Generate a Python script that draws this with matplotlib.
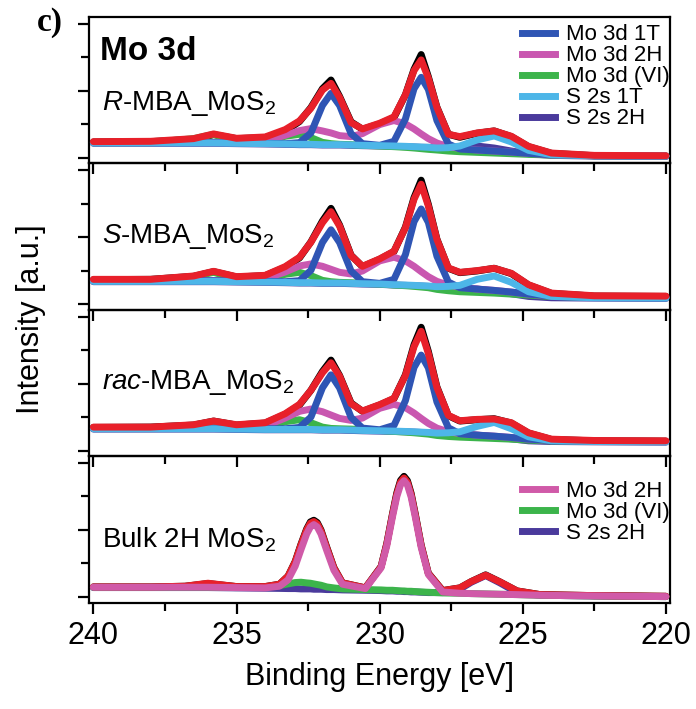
import matplotlib
matplotlib.use('Agg')
import matplotlib.pyplot as plt
from matplotlib.ticker import MultipleLocator
from matplotlib.lines import Line2D

plt.rcParams['font.family'] = ['Liberation Sans', 'DejaVu Sans']
plt.rcParams['mathtext.fontset'] = 'custom'
plt.rcParams['mathtext.rm'] = 'Liberation Sans'
plt.rcParams['mathtext.it'] = 'Liberation Sans:italic'

# binding energy grid (eV) shared by the three MBA samples
energy = [240, 238, 236.5, 235.8, 235.0, 234.0, 233.3, 232.8, 232.4, 232.0,
          231.7, 231.4, 231.0, 230.6, 230.0, 229.5, 229.1, 228.8, 228.55, 228.3,
          228.0, 227.6, 227.2, 226.6, 226.0, 225.4, 224.8, 224.0, 222.5, 220]

# R-MBA_MoS2
r_data = [0.47, 0.48, 0.55, 0.69, 0.57, 0.60, 0.80, 1.08, 1.50, 2.06,
          2.32, 1.83, 1.07, 0.85, 1.01, 1.20, 1.88, 2.64, 3.08, 2.42,
          1.51, 0.70, 0.61, 0.73, 0.80, 0.63, 0.33, 0.13, 0.06, 0.05]
r_fit = [0.48, 0.49, 0.57, 0.71, 0.58, 0.62, 0.84, 1.10, 1.48, 2.02,
         2.22, 1.80, 1.05, 0.86, 1.03, 1.22, 1.88, 2.60, 2.92, 2.38,
         1.50, 0.70, 0.63, 0.74, 0.80, 0.64, 0.34, 0.14, 0.07, 0.06]
r_1t = [0.45, 0.45, 0.45, 0.45, 0.44, 0.43, 0.42, 0.45, 0.74, 1.56,
        1.92, 1.56, 0.72, 0.42, 0.37, 0.49, 1.16, 2.06, 2.40, 2.04,
        1.11, 0.41, 0.26, 0.23, 0.20, 0.17, 0.13, 0.09, 0.06, 0.05]
r_2h = [0.45, 0.45, 0.45, 0.45, 0.44, 0.49, 0.67, 0.81, 0.87, 0.80,
        0.74, 0.66, 0.63, 0.72, 0.99, 1.11, 1.01, 0.86, 0.71, 0.57,
        0.44, 0.33, 0.28, 0.23, 0.20, 0.17, 0.13, 0.09, 0.06, 0.05]
r_vi = [0.45, 0.45, 0.57, 0.70, 0.49, 0.46, 0.64, 0.70, 0.60, 0.46,
        0.42, 0.40, 0.39, 0.37, 0.35, 0.33, 0.31, 0.29, 0.27, 0.25,
        0.23, 0.20, 0.18, 0.16, 0.14, 0.12, 0.10, 0.08, 0.06, 0.05]
r_s1t = [0.44, 0.44, 0.44, 0.44, 0.43, 0.42, 0.41, 0.40, 0.40, 0.39,
         0.39, 0.39, 0.38, 0.37, 0.36, 0.35, 0.34, 0.33, 0.32, 0.31,
         0.29, 0.30, 0.35, 0.53, 0.65, 0.47, 0.22, 0.09, 0.06, 0.05]
r_s2h = [0.43, 0.43, 0.43, 0.43, 0.42, 0.41, 0.40, 0.39, 0.39, 0.38,
         0.38, 0.38, 0.37, 0.36, 0.35, 0.34, 0.33, 0.32, 0.31, 0.31,
         0.30, 0.31, 0.33, 0.35, 0.29, 0.20, 0.12, 0.07, 0.05, 0.04]

# S-MBA_MoS2
s_data = [0.73, 0.74, 0.83, 0.97, 0.81, 0.85, 1.10, 1.38, 1.86, 2.48,
          2.86, 2.36, 1.46, 1.12, 1.34, 1.57, 2.30, 3.18, 3.70, 2.98,
          1.94, 1.07, 0.94, 0.99, 1.07, 0.91, 0.57, 0.32, 0.24, 0.23]
s_fit = [0.74, 0.74, 0.84, 0.98, 0.82, 0.86, 1.12, 1.40, 1.85, 2.43,
         2.76, 2.33, 1.45, 1.13, 1.35, 1.58, 2.28, 3.13, 3.58, 2.93,
         1.93, 1.08, 0.95, 1.00, 1.07, 0.92, 0.58, 0.33, 0.25, 0.24]
s_1t = [0.70, 0.70, 0.70, 0.70, 0.69, 0.68, 0.67, 0.70, 1.01, 1.84,
        2.22, 1.84, 0.99, 0.67, 0.62, 0.74, 1.48, 2.46, 2.84, 2.44,
        1.43, 0.66, 0.49, 0.45, 0.41, 0.36, 0.30, 0.24, 0.21, 0.20]
s_2h = [0.70, 0.70, 0.70, 0.70, 0.69, 0.76, 0.96, 1.14, 1.20, 1.13,
        1.04, 0.95, 0.90, 0.99, 1.29, 1.40, 1.29, 1.13, 0.97, 0.82,
        0.68, 0.57, 0.51, 0.45, 0.41, 0.36, 0.30, 0.24, 0.21, 0.20]
s_vi = [0.70, 0.70, 0.82, 0.95, 0.74, 0.71, 0.89, 0.95, 0.85, 0.71,
        0.67, 0.65, 0.64, 0.62, 0.60, 0.57, 0.55, 0.53, 0.51, 0.49,
        0.44, 0.40, 0.37, 0.35, 0.33, 0.30, 0.27, 0.23, 0.21, 0.20]
s_s1t = [0.68, 0.68, 0.68, 0.68, 0.67, 0.66, 0.65, 0.64, 0.64, 0.63,
         0.63, 0.63, 0.62, 0.61, 0.60, 0.58, 0.57, 0.56, 0.55, 0.54,
         0.52, 0.53, 0.56, 0.74, 0.84, 0.65, 0.37, 0.23, 0.19, 0.18]
s_s2h = [0.67, 0.67, 0.67, 0.67, 0.66, 0.65, 0.64, 0.63, 0.63, 0.62,
         0.62, 0.62, 0.61, 0.60, 0.59, 0.57, 0.56, 0.55, 0.54, 0.53,
         0.50, 0.47, 0.46, 0.45, 0.39, 0.31, 0.23, 0.19, 0.18, 0.17]

# rac-MBA_MoS2
rac_data = [0.69, 0.70, 0.76, 0.88, 0.76, 0.82, 1.08, 1.36, 1.80, 2.36,
            2.70, 2.24, 1.42, 1.17, 1.36, 1.55, 2.26, 3.16, 3.68, 2.96,
            1.90, 1.04, 0.88, 0.92, 0.95, 0.82, 0.52, 0.33, 0.29, 0.28]
rac_fit = [0.70, 0.70, 0.77, 0.88, 0.77, 0.83, 1.10, 1.38, 1.80, 2.32,
           2.62, 2.22, 1.40, 1.18, 1.37, 1.56, 2.24, 3.10, 3.56, 2.90,
           1.88, 1.05, 0.89, 0.93, 0.94, 0.83, 0.53, 0.34, 0.30, 0.29]
rac_1t = [0.67, 0.67, 0.67, 0.67, 0.66, 0.65, 0.65, 0.69, 1.00, 1.87,
          2.26, 1.87, 0.99, 0.67, 0.62, 0.75, 1.49, 2.48, 2.85, 2.47,
          1.45, 0.68, 0.50, 0.46, 0.43, 0.39, 0.34, 0.30, 0.28, 0.27]
rac_2h = [0.67, 0.67, 0.67, 0.67, 0.66, 0.73, 0.97, 1.17, 1.24, 1.16,
          1.06, 0.96, 0.90, 0.97, 1.26, 1.38, 1.28, 1.12, 0.96, 0.81,
          0.67, 0.56, 0.51, 0.46, 0.43, 0.39, 0.34, 0.30, 0.28, 0.27]
rac_vi = [0.67, 0.67, 0.74, 0.84, 0.70, 0.68, 0.86, 0.92, 0.83, 0.70,
          0.66, 0.65, 0.64, 0.62, 0.60, 0.57, 0.55, 0.53, 0.51, 0.49,
          0.45, 0.42, 0.40, 0.38, 0.36, 0.34, 0.31, 0.29, 0.28, 0.27]
rac_s1t = [0.65, 0.65, 0.65, 0.65, 0.64, 0.63, 0.63, 0.63, 0.63, 0.62,
           0.62, 0.62, 0.61, 0.60, 0.59, 0.58, 0.57, 0.56, 0.55, 0.54,
           0.52, 0.53, 0.56, 0.72, 0.84, 0.65, 0.41, 0.29, 0.27, 0.26]
rac_s2h = [0.64, 0.64, 0.64, 0.64, 0.63, 0.62, 0.62, 0.62, 0.62, 0.61,
           0.61, 0.61, 0.60, 0.59, 0.58, 0.57, 0.56, 0.55, 0.54, 0.53,
           0.50, 0.48, 0.47, 0.46, 0.41, 0.35, 0.29, 0.27, 0.26, 0.25]

# bulk 2H MoS2 has its own, finer grid around the two sharp peaks
energy_bulk = [240, 238, 236.8, 236.0, 235.0, 234.0, 233.5, 233.2, 232.95, 232.75,
               232.55, 232.42, 232.3, 232.18, 232.05, 231.85, 231.6, 231.3, 230.5, 229.95,
               229.75, 229.55, 229.4, 229.27, 229.15, 229.03, 228.9, 228.75, 228.55, 228.3,
               227.8, 227.2, 226.8, 226.3, 225.8, 225.2, 224.4, 222.5, 220]
bulk_data = [0.30, 0.30, 0.32, 0.40, 0.31, 0.31, 0.38, 0.62, 1.06, 1.57,
             2.03, 2.24, 2.29, 2.22, 2.00, 1.49, 0.88, 0.42, 0.27, 0.91,
             1.60, 2.49, 3.11, 3.48, 3.60, 3.47, 3.09, 2.45, 1.55, 0.71,
             0.19, 0.27, 0.46, 0.66, 0.45, 0.18, 0.07, 0.04, 0.02]
bulk_fit = [0.30, 0.30, 0.32, 0.41, 0.31, 0.31, 0.38, 0.62, 1.05, 1.55,
            2.00, 2.20, 2.25, 2.18, 1.97, 1.47, 0.87, 0.42, 0.27, 0.90,
            1.58, 2.46, 3.07, 3.43, 3.55, 3.42, 3.05, 2.42, 1.53, 0.70,
            0.19, 0.27, 0.46, 0.65, 0.45, 0.18, 0.07, 0.04, 0.02]
bulk_2h = [0.29, 0.29, 0.29, 0.29, 0.28, 0.27, 0.32, 0.51, 0.92, 1.41,
           1.88, 2.09, 2.16, 2.09, 1.88, 1.39, 0.80, 0.38, 0.25, 0.87,
           1.53, 2.40, 3.00, 3.35, 3.47, 3.34, 2.98, 2.36, 1.48, 0.67,
           0.15, 0.11, 0.10, 0.09, 0.08, 0.07, 0.05, 0.03, 0.01]
bulk_vi = [0.29, 0.29, 0.29, 0.29, 0.28, 0.29, 0.34, 0.39, 0.43, 0.44,
           0.42, 0.41, 0.39, 0.37, 0.35, 0.30, 0.27, 0.24, 0.22, 0.21,
           0.20, 0.20, 0.19, 0.18, 0.18, 0.17, 0.17, 0.16, 0.15, 0.14,
           0.12, 0.11, 0.10, 0.09, 0.08, 0.07, 0.05, 0.03, 0.01]
bulk_s2h = [0.28, 0.28, 0.28, 0.28, 0.27, 0.26, 0.255, 0.25, 0.25, 0.24,
            0.24, 0.24, 0.23, 0.23, 0.23, 0.22, 0.22, 0.21, 0.20, 0.19,
            0.18, 0.18, 0.17, 0.17, 0.16, 0.16, 0.15, 0.15, 0.14, 0.13,
            0.13, 0.23, 0.44, 0.64, 0.42, 0.13, 0.05, 0.03, 0.01]

sample_names = [r'$\it{R}$-MBA_MoS$_2$', r'$\it{S}$-MBA_MoS$_2$',
                r'$\it{rac}$-MBA_MoS$_2$', 'Bulk 2H MoS$_2$']
label_y = [0.363, 0.455, 0.46, 0.38]

c_1t = '#2f55b4'
c_2h = '#c957b0'
c_vi = '#3cb44b'
c_s1t = '#4db6e8'
c_s2h = '#4a3a9c'
c_fit = '#e8202a'
c_bulk2h = '#d05aa8'

lw = 5.0
line_kw = dict(lw=lw, solid_joinstyle='round', solid_capstyle='round')

fig, axes = plt.subplots(4, 1, figsize=(6.96, 7.09), dpi=100, sharex=True)
fig.subplots_adjust(left=0.128, right=0.963, top=0.976, bottom=0.15, hspace=0)

mba = [(r_data, r_fit, r_1t, r_2h, r_vi, r_s1t, r_s2h),
       (s_data, s_fit, s_1t, s_2h, s_vi, s_s1t, s_s2h),
       (rac_data, rac_fit, rac_1t, rac_2h, rac_vi, rac_s1t, rac_s2h)]

for ax, (dat, fit, t1, h2, vi, s1, s2) in zip(axes[:3], mba):
    ax.plot(energy, dat, color='black', zorder=1, **line_kw)
    ax.plot(energy, s2, color=c_s2h, zorder=2, **line_kw)
    ax.plot(energy, vi, color=c_vi, zorder=3, **line_kw)
    ax.plot(energy, h2, color=c_2h, zorder=4, **line_kw)
    ax.plot(energy, t1, color=c_1t, zorder=5, **line_kw)
    ax.plot(energy, s1, color=c_s1t, zorder=6, **line_kw)
    ax.plot(energy, fit, color=c_fit, zorder=7, **line_kw)

ax = axes[3]
ax.plot(energy_bulk, bulk_data, color='black', zorder=1, **line_kw)
ax.plot(energy_bulk, bulk_s2h, color=c_s2h, zorder=2, **line_kw)
ax.plot(energy_bulk, bulk_vi, color=c_vi, zorder=3, **line_kw)
ax.plot(energy_bulk, bulk_fit, color=c_fit, zorder=4, **line_kw)
ax.plot(energy_bulk, bulk_2h, color=c_bulk2h, zorder=5, **line_kw)

for i, ax in enumerate(axes):
    ax.set_zorder(10 - i)
    ax.patch.set_visible(False)
    ax.set_xlim(240.15, 219.85)
    ax.set_ylim(-0.17, 4.2)
    ax.xaxis.set_major_locator(MultipleLocator(5))
    ax.xaxis.set_minor_locator(MultipleLocator(2.5))
    ax.yaxis.set_major_locator(MultipleLocator(2))
    ax.yaxis.set_minor_locator(MultipleLocator(1))
    ax.tick_params(axis='both', which='both', direction='out', width=1.6)
    ax.tick_params(axis='both', which='major', length=8)
    ax.tick_params(axis='both', which='minor', length=5.5)
    ax.tick_params(axis='y', labelleft=False)
    ax.tick_params(axis='x', labelsize=22, pad=5)
    for sp in ax.spines.values():
        sp.set_linewidth(1.6)
    ax.text(0.022, label_y[i], sample_names[i], transform=ax.transAxes,
            fontsize=20, va='baseline', ha='left')

axes[0].text(0.019, 0.705, 'Mo 3d', transform=axes[0].transAxes,
             fontsize=24, fontweight='bold', va='baseline', ha='left')

leg_kw = dict(frameon=False, fontsize=16, handlelength=1.5, handletextpad=0.5,
              labelspacing=0.0, borderaxespad=0, borderpad=0, loc='upper right')

h_all = [Line2D([], [], color=c, lw=5) for c in (c_1t, c_2h, c_vi, c_s1t, c_s2h)]
axes[0].legend(h_all, ['Mo 3d 1T', 'Mo 3d 2H', 'Mo 3d (VI)', 'S 2s 1T', 'S 2s 2H'],
               bbox_to_anchor=(1.0, 0.95), **leg_kw)
h_bulk = [Line2D([], [], color=c, lw=5) for c in (c_bulk2h, c_vi, c_s2h)]
axes[3].legend(h_bulk, ['Mo 3d 2H', 'Mo 3d (VI)', 'S 2s 2H'],
               bbox_to_anchor=(1.0, 0.83), **leg_kw)

axes[3].set_xlabel('Binding Energy [eV]', fontsize=22, labelpad=8)
fig.text(0.045, 0.55, 'Intensity [a.u.]', rotation=90, fontsize=22,
         ha='center', va='center')
fig.text(0.053, 0.99, 'c)', fontsize=24, fontweight='bold',
         family='Liberation Serif', ha='left', va='top')

fig.savefig('out.png', dpi=100)
